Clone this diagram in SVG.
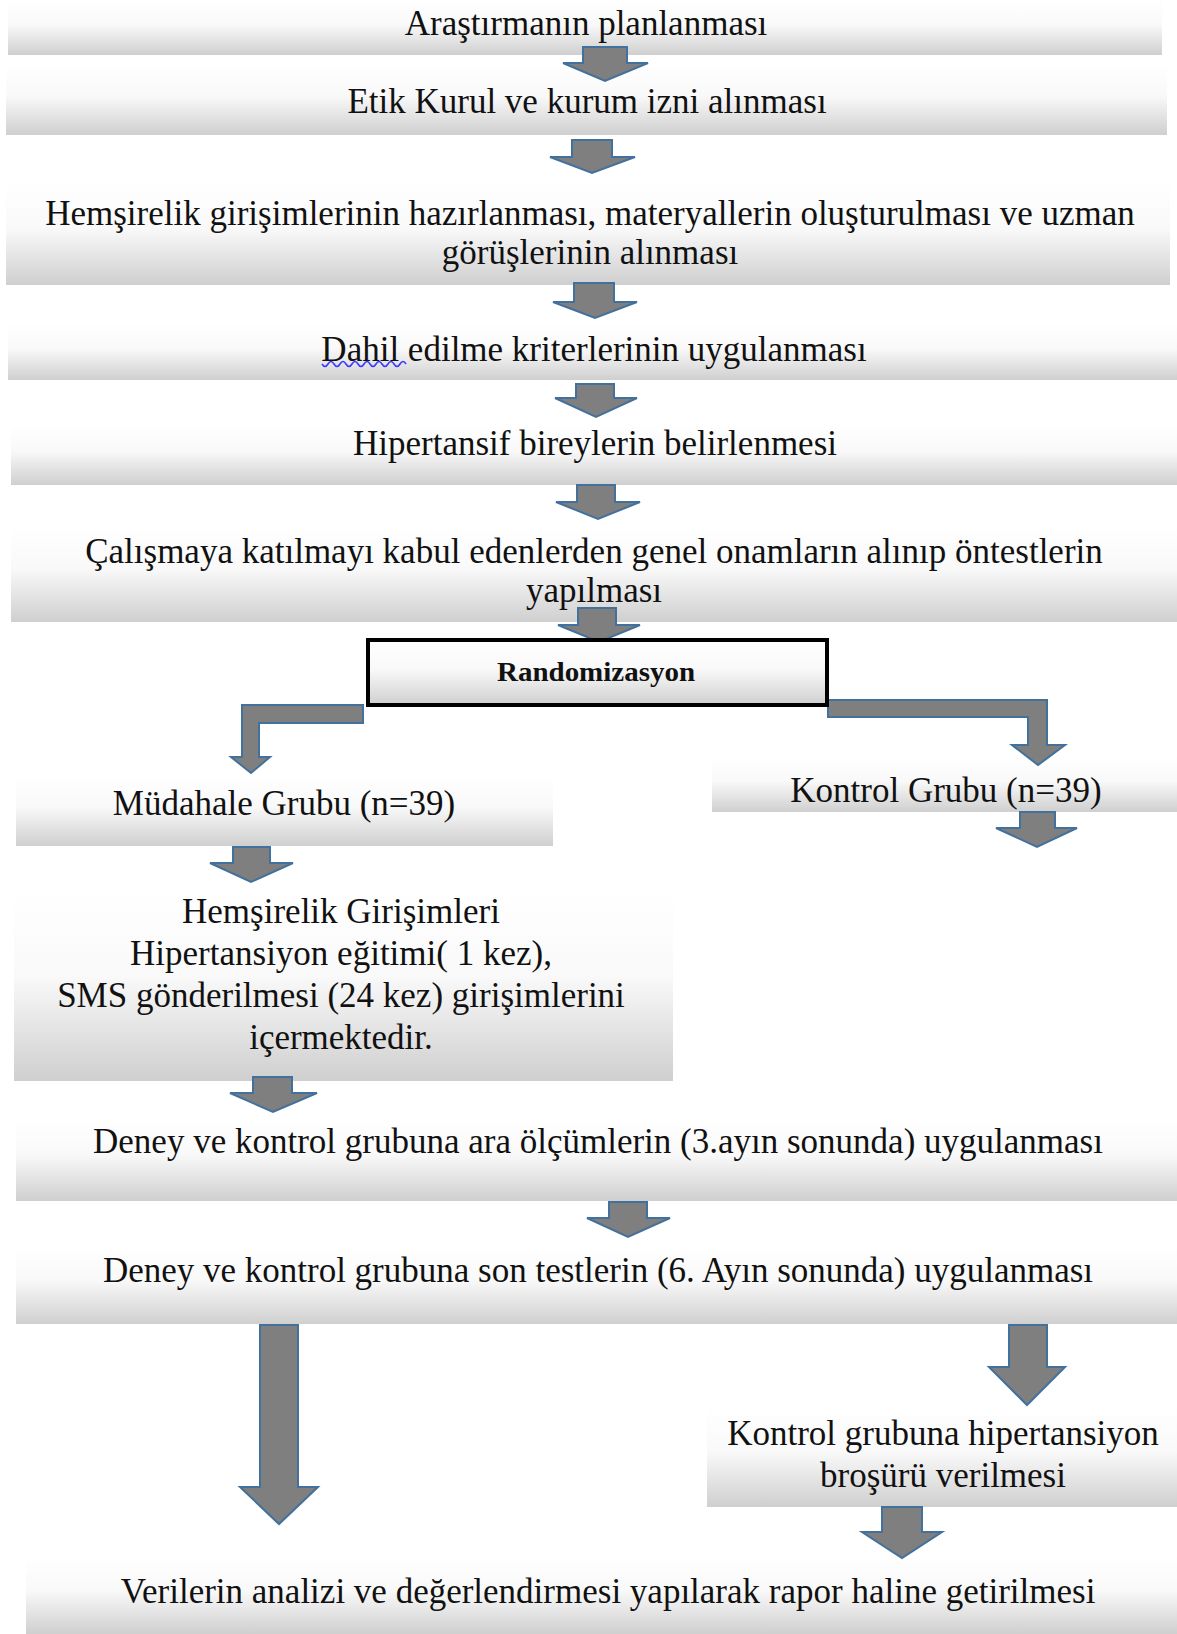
<svg xmlns="http://www.w3.org/2000/svg" width="1177" height="1634" viewBox="0 0 1177 1634">
<defs>
<linearGradient id="g" x1="0" y1="0" x2="0" y2="1">
<stop offset="0" stop-color="#ffffff"/>
<stop offset="0.45" stop-color="#f9f9f9"/>
<stop offset="1" stop-color="#cfcfcf"/>
</linearGradient>
</defs>
<style>
.box{fill:url(#g);}
.t{font-family:"Liberation Serif","Times New Roman",serif;font-size:35px;fill:#111;text-anchor:middle;}
.rb{fill:url(#g);stroke:#000;stroke-width:4;}
.rt{font-family:"Liberation Serif","Times New Roman",serif;font-size:27px;font-weight:bold;fill:#111;text-anchor:middle;}
.ar{fill:#7f7f7f;stroke:#41719c;stroke-width:2;stroke-linejoin:miter;}
</style>
<rect width="1177" height="1634" fill="#ffffff"/>
<g id="n1"><rect class="box" x="8" y="0" width="1154" height="55"/><text class="t" x="586" y="35">Araştırmanın planlanması</text></g>
<g id="n2"><rect class="box" x="6" y="64" width="1161" height="71"/><text class="t" x="587" y="113">Etik Kurul ve kurum izni alınması</text></g>
<g id="n3"><rect class="box" x="6" y="182" width="1164" height="103"/><text class="t" x="590" y="225">Hemşirelik girişimlerinin hazırlanması, materyallerin oluşturulması ve uzman</text><text class="t" x="590" y="264">görüşlerinin alınması</text></g>
<g id="n4"><rect class="box" x="8" y="323" width="1169" height="57"/><text class="t" x="594" y="361">Dahil edilme kriterlerinin uygulanması</text><path d="M322,364 q3,5 6,0 t6,0 t6,0 t6,0 t6,0 t6,0 t6,0 t6,0 t6,0 t6,0 t6,0 t6,0 t6,0 t6,0" fill="none" stroke="#3b3bff" stroke-width="1.6"/></g>
<g id="n5"><rect class="box" x="11" y="423" width="1166" height="62"/><text class="t" x="595" y="455">Hipertansif bireylerin belirlenmesi</text></g>
<g id="n6"><rect class="box" x="11" y="525" width="1166" height="97"/><text class="t" x="594" y="563">Çalışmaya katılmayı kabul edenlerden genel onamların alınıp öntestlerin</text><text class="t" x="594" y="602">yapılması</text></g>
<g id="n8"><rect class="box" x="16" y="775" width="537" height="71"/><text class="t" x="284" y="815">Müdahale Grubu (n=39)</text></g>
<g id="n9"><rect class="box" x="712" y="756" width="465" height="56"/><text class="t" x="946" y="802">Kontrol Grubu (n=39)</text></g>
<g id="n10"><rect class="box" x="14" y="891" width="659" height="190"/><text class="t" x="341" y="923">Hemşirelik Girişimleri</text><text class="t" x="341" y="965">Hipertansiyon eğitimi( 1 kez),</text><text class="t" x="341" y="1007">SMS gönderilmesi (24 kez) girişimlerini</text><text class="t" x="341" y="1049">içermektedir.</text></g>
<g id="n11"><rect class="box" x="16" y="1117" width="1161" height="84"/><text class="t" x="598" y="1153">Deney ve kontrol grubuna ara ölçümlerin (3.ayın sonunda) uygulanması</text></g>
<g id="n12"><rect class="box" x="16" y="1244" width="1161" height="80"/><text class="t" x="598" y="1282">Deney ve kontrol grubuna son testlerin (6. Ayın sonunda) uygulanması</text></g>
<g id="n13"><rect class="box" x="707" y="1407" width="470" height="100"/><text class="t" x="943" y="1445">Kontrol grubuna hipertansiyon</text><text class="t" x="943" y="1487">broşürü verilmesi</text></g>
<g id="n14"><rect class="box" x="26" y="1555" width="1151" height="79"/><text class="t" x="608" y="1603">Verilerin analizi ve değerlendirmesi yapılarak rapor haline getirilmesi</text></g>
<g id="connectors">
<path class="ar" d="M583,47 L627,47 L627,63 L648,63 L605,81 L563,63 L583,63 Z"/>
<path class="ar" d="M572,140 L612,140 L612,157 L635,157 L592,173 L550,157 L572,157 Z"/>
<path class="ar" d="M574,283 L614,283 L614,302 L637,302 L595,318 L553,302 L574,302 Z"/>
<path class="ar" d="M576,384 L614,384 L614,398 L637,398 L596,417 L555,398 L576,398 Z"/>
<path class="ar" d="M577,485 L615,485 L615,502 L640,502 L598,519 L556,502 L577,502 Z"/>
<path class="ar" d="M578,608 L616,608 L616,625 L640,625 L599,642 L558,625 L578,625 Z"/>
<path class="ar" d="M363,705 L363,723 L259,723 L259,757 L270,757 L251,773 L231,757 L242,757 L242,705 Z"/>
<path class="ar" d="M828,700 L1047,700 L1047,745 L1065,745 L1038,765 L1012,745 L1028,745 L1028,717 L828,717 Z"/>
<path class="ar" d="M1020,812 L1055,812 L1055,828 L1077,828 L1037,847 L996,828 L1020,828 Z"/>
<path class="ar" d="M233,847 L270,847 L270,863 L293,863 L251,882 L210,863 L233,863 Z"/>
<path class="ar" d="M253,1077 L292,1077 L292,1093 L317,1093 L273,1112 L230,1093 L253,1093 Z"/>
<path class="ar" d="M609,1202 L647,1202 L647,1218 L670,1218 L628,1237 L587,1218 L609,1218 Z"/>
<path class="ar" d="M260,1325 L298,1325 L298,1487 L318,1487 L279,1524 L240,1487 L260,1487 Z"/>
<path class="ar" d="M1009,1325 L1047,1325 L1047,1367 L1065,1367 L1027,1405 L989,1367 L1009,1367 Z"/>
<path class="ar" d="M882,1507 L922,1507 L922,1532 L942,1532 L902,1558 L862,1532 L882,1532 Z"/>
</g>
<g id="n7"><rect class="rb" x="368" y="640" width="459" height="65"/><text class="rt" x="596" y="681" textLength="198" lengthAdjust="spacingAndGlyphs">Randomizasyon</text></g>
</svg>
